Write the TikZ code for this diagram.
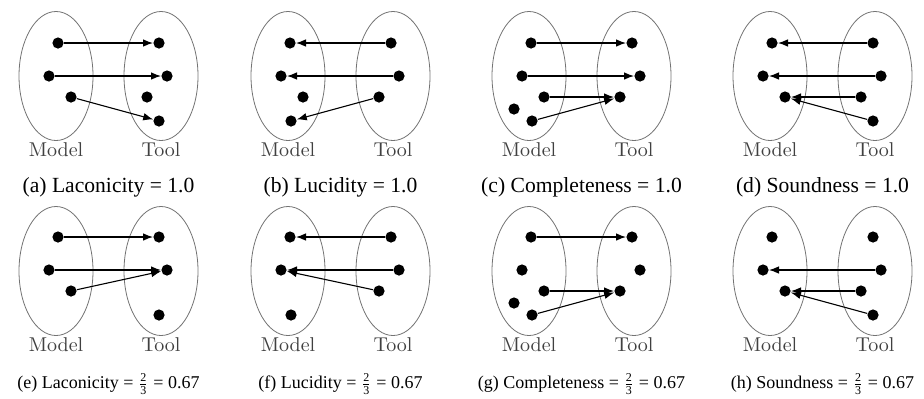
\documentclass[tikz,border=0pt]{standalone}
\usepackage{fontspec}
\usepackage{amsmath}
\usepackage{tikz}
\usetikzlibrary{arrows.meta}
\newfontfamily\capfont{Liberation Serif}

\begin{document}
\begin{tikzpicture}[
            x = 0.5pt, y = -0.5pt,
            dot/.style = {circle, fill = black, inner sep = 0pt, minimum size = 5.6pt},
            setline/.style = {draw = black!55, line width = 0.4pt},
            setname/.style = {text = black!75, font = \normalsize},
            bigcap/.style = {font = \capfont\fontsize{10.8}{13}\selectfont},
            smallcap/.style = {font = \capfont\fontsize{9}{11}\selectfont},
            map/.style = {-{Latex[length = 5pt, width = 3.8pt]}, line width = 0.55pt}
        ]
        \useasboundingbox (0,0) rectangle (924,398);
        % the two sets of every panel
        \foreach \cx/\cy in {56/76, 288/76, 529/76, 770/76, 56/271, 288/271, 529/271, 770/271} {
            \draw[setline] (\cx,\cy) ellipse [x radius = 37, y radius = 64.5];
            \draw[setline] (\cx+105,\cy) ellipse [x radius = 37, y radius = 64.5];
            \node[setname] at (\cx,\cy+74) {Model};
            \node[setname] at (\cx+105,\cy+74) {Tool};
        }

        % (a)
        \begin{scope}[shift = {(56,76)}]
            \node[dot] (aLT) at (2,-33) {};
            \node[dot] (aLM) at (-7,0) {};
            \node[dot] (aLL) at (15,21) {};
            \node[dot] (aRT) at (103,-33) {};
            \node[dot] (aRM) at (111,0) {};
            \node[dot] (aRL) at (91,21) {};
            \node[dot] (aRB) at (103,45) {};
            \node[bigcap] (aCap) at (52.5,111) {(a) Laconicity = 1.0};
        \end{scope}
        \draw[map] (aLT) -- (aRT);
        \draw[map] (aLM) -- (aRM);
        \draw[map] (aLL) -- (aRB);

        % (b)
        \begin{scope}[shift = {(288,76)}]
            \node[dot] (bLT) at (2,-33) {};
            \node[dot] (bLM) at (-7,0) {};
            \node[dot] (bLL) at (15,21) {};
            \node[dot] (bLB) at (3,45) {};
            \node[dot] (bRT) at (103,-33) {};
            \node[dot] (bRM) at (111,0) {};
            \node[dot] (bRL) at (91,21) {};
            \node[bigcap] (bCap) at (52.5,111) {(b) Lucidity = 1.0};
        \end{scope}
        \draw[map] (bRT) -- (bLT);
        \draw[map] (bRM) -- (bLM);
        \draw[map] (bRL) -- (bLB);

        % (c)
        \begin{scope}[shift = {(529,76)}]
            \node[dot] (cLT) at (2,-33) {};
            \node[dot] (cLM) at (-7,0) {};
            \node[dot] (cLL) at (15,21) {};
            \node[dot] (cLB) at (3,45) {};
            \node[dot] (cLX) at (-15,33) {};
            \node[dot] (cRT) at (103,-33) {};
            \node[dot] (cRM) at (111,0) {};
            \node[dot] (cRL) at (91,21) {};
            \node[bigcap] (cCap) at (52.5,111) {(c) Completeness = 1.0};
        \end{scope}
        \draw[map] (cLT) -- (cRT);
        \draw[map] (cLM) -- (cRM);
        \draw[map] (cLL) -- (cRL);
        \draw[map] (cLB) -- (cRL);

        % (d)
        \begin{scope}[shift = {(770,76)}]
            \node[dot] (dLT) at (2,-33) {};
            \node[dot] (dLM) at (-7,0) {};
            \node[dot] (dLL) at (15,21) {};
            \node[dot] (dRT) at (103,-33) {};
            \node[dot] (dRM) at (111,0) {};
            \node[dot] (dRL) at (91,21) {};
            \node[dot] (dRB) at (103,45) {};
            \node[bigcap] (dCap) at (52.5,111) {(d) Soundness = 1.0};
        \end{scope}
        \draw[map] (dRT) -- (dLT);
        \draw[map] (dRM) -- (dLM);
        \draw[map] (dRL) -- (dLL);
        \draw[map] (dRB) -- (dLL);

        % (e)
        \begin{scope}[shift = {(56,271)}]
            \node[dot] (eLT) at (2,-34) {};
            \node[dot] (eLM) at (-7,-1) {};
            \node[dot] (eLL) at (15,20) {};
            \node[dot] (eRT) at (103,-34) {};
            \node[dot] (eRM) at (111,-1) {};
            \node[dot] (eRB) at (103,44) {};
            \node[smallcap] (eCap) at (52.5,113) {(e) Laconicity = $\frac{\text{2}}{\text{3}}$ = 0.67};
        \end{scope}
        \draw[map] (eLT) -- (eRT);
        \draw[map] (eLM) -- (eRM);
        \draw[map] (eLL) -- (eRM);

        % (f)
        \begin{scope}[shift = {(288,271)}]
            \node[dot] (fLT) at (2,-34) {};
            \node[dot] (fLM) at (-7,-1) {};
            \node[dot] (fLB) at (3,44) {};
            \node[dot] (fRT) at (103,-34) {};
            \node[dot] (fRM) at (111,-1) {};
            \node[dot] (fRL) at (91,20) {};
            \node[smallcap] (fCap) at (52.5,113) {(f) Lucidity = $\frac{\text{2}}{\text{3}}$ = 0.67};
        \end{scope}
        \draw[map] (fRT) -- (fLT);
        \draw[map] (fRM) -- (fLM);
        \draw[map] (fRL) -- (fLM);

        % (g)
        \begin{scope}[shift = {(529,271)}]
            \node[dot] (gLT) at (2,-34) {};
            \node[dot] (gLM) at (-7,-1) {};
            \node[dot] (gLL) at (15,20) {};
            \node[dot] (gLB) at (3,44) {};
            \node[dot] (gLX) at (-15,32) {};
            \node[dot] (gRT) at (103,-34) {};
            \node[dot] (gRM) at (111,-1) {};
            \node[dot] (gRL) at (91,20) {};
            \node[smallcap] (gCap) at (52.5,113) {(g) Completeness = $\frac{\text{2}}{\text{3}}$ = 0.67};
        \end{scope}
        \draw[map] (gLT) -- (gRT);
        \draw[map] (gLL) -- (gRL);
        \draw[map] (gLB) -- (gRL);

        % (h)
        \begin{scope}[shift = {(770,271)}]
            \node[dot] (hLT) at (2,-34) {};
            \node[dot] (hLM) at (-7,-1) {};
            \node[dot] (hLL) at (15,20) {};
            \node[dot] (hRT) at (103,-34) {};
            \node[dot] (hRM) at (111,-1) {};
            \node[dot] (hRL) at (91,20) {};
            \node[dot] (hRB) at (103,44) {};
            \node[smallcap] (hCap) at (52.5,113) {(h) Soundness = $\frac{\text{2}}{\text{3}}$ = 0.67};
        \end{scope}
        \draw[map] (hRM) -- (hLM);
        \draw[map] (hRL) -- (hLL);
        \draw[map] (hRB) -- (hLL);
    \end{tikzpicture}
\end{document}
